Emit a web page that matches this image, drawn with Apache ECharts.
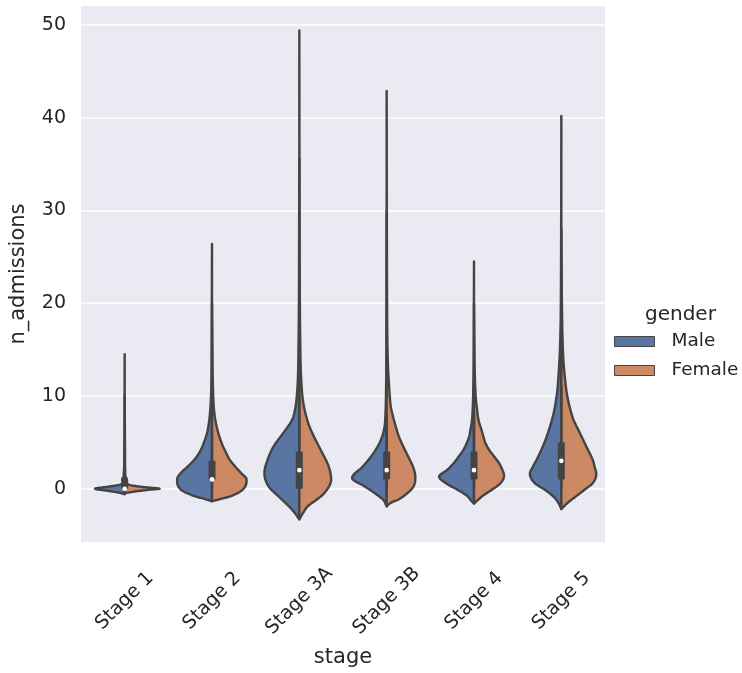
<!DOCTYPE html>
<html>
<head>
<meta charset="utf-8">
<script src="https://cdn.jsdelivr.net/npm/echarts@6/dist/echarts.min.js"></script>
<style>html,body{margin:0;padding:0;background:#fff;}#chart{width:742px;height:673px;}</style>
</head>
<body>
<div id="chart"></div>
<script>
// ---------- data ----------
const stages = ['Stage 1', 'Stage 2', 'Stage 3A', 'Stage 3B', 'Stage 4', 'Stage 5'];
const genders = ['Male', 'Female'];
const yTicks = [0, 10, 20, 30, 40, 50];

// density profiles: [n_admissions, relative density width]
const maleProfiles = [
  [[-0.6,0],[-0.4,0.2],[-0.2,0.55],[0,0.85],[0.2,0.5],[0.45,0.12],[0.8,0.05],[1.0,0.07],[1.3,0.04],[2,0.02],[4,0.01],[14.5,0]],
  [[-1.35,0],[-1.1,0.22],[-0.8,0.5],[-0.1,0.89],[1.0,1.0],[1.7,0.89],[2.4,0.69],[3.1,0.51],[3.9,0.36],[4.6,0.27],[5.3,0.2],[6.0,0.14],[6.7,0.105],[7.4,0.077],[8.2,0.057],[9,0.04],[11,0.02],[15,0.01],[20,0.005],[26.4,0]],
  [[-3.3,0],[-2.3,0.2],[-1.2,0.49],[0.25,0.88],[1.7,1.0],[3.1,0.91],[4.6,0.73],[6.0,0.46],[7.4,0.21],[8.8,0.11],[10.3,0.066],[12,0.04],[15,0.025],[20,0.012],[28,0.006],[35.6,0]],
  [[-1.9,0],[-1.2,0.1],[-0.46,0.35],[0.25,0.63],[1.15,0.99],[2.4,0.68],[3.5,0.44],[4.6,0.25],[5.6,0.13],[6.7,0.06],[8,0.035],[10,0.02],[14,0.01],[20,0.005],[30,0]],
  [[-1.6,0],[-1.3,0.08],[-0.8,0.19],[-0.1,0.48],[0.6,0.81],[1.3,1.0],[2.05,0.76],[2.8,0.57],[3.5,0.43],[4.2,0.3],[4.9,0.21],[5.6,0.14],[6.4,0.1],[7.1,0.066],[8,0.045],[10,0.025],[13,0.012],[18,0.005],[24.5,0]],
  [[-2.2,0],[-1.5,0.09],[-0.8,0.24],[-0.1,0.48],[0.6,0.76],[1.6,0.9],[2.4,0.81],[3.1,0.71],[4.2,0.57],[5.3,0.45],[6.4,0.35],[7.4,0.27],[8.5,0.2],[9.6,0.15],[10.7,0.11],[11.7,0.09],[12.8,0.07],[15,0.04],[18,0.02],[23,0.01],[30,0.004],[40.2,0]]
];
const femaleProfiles = [
  [[-0.5,0],[-0.3,0.3],[-0.1,0.75],[0,1.0],[0.15,0.6],[0.35,0.2],[0.7,0.06],[1.0,0.06],[1.3,0.03],[2,0.015],[4,0.01],[10,0]],
  [[-1.35,0],[-1.1,0.26],[-0.8,0.54],[-0.1,0.88],[1.0,0.99],[1.7,0.83],[2.4,0.66],[3.1,0.51],[3.9,0.4],[4.6,0.31],[5.3,0.24],[6.0,0.18],[6.7,0.134],[7.4,0.094],[8.2,0.066],[8.9,0.049],[10,0.035],[12,0.02],[16,0.01],[20,0]],
  [[-3.3,0],[-2.6,0.11],[-1.9,0.24],[-1.2,0.49],[-0.5,0.71],[1.0,0.91],[2.4,0.84],[3.9,0.65],[5.3,0.46],[6.7,0.29],[8.2,0.17],[9.6,0.1],[11,0.066],[13,0.04],[16,0.025],[20,0.015],[30,0.006],[49.4,0]],
  [[-1.9,0],[-1.5,0.13],[-1.2,0.32],[-0.46,0.6],[0.25,0.77],[1.3,0.82],[2.4,0.75],[3.5,0.61],[4.6,0.47],[5.6,0.35],[6.7,0.26],[7.8,0.18],[8.8,0.12],[9.9,0.09],[11,0.07],[13,0.04],[16,0.02],[22,0.01],[30,0.005],[42.9,0]],
  [[-1.6,0],[-1.3,0.09],[-0.8,0.24],[-0.1,0.52],[0.6,0.76],[1.4,0.86],[2.05,0.81],[2.8,0.71],[3.5,0.57],[4.2,0.43],[4.9,0.33],[5.6,0.27],[6.4,0.21],[7.1,0.15],[7.8,0.11],[8.5,0.09],[9.2,0.066],[10.5,0.04],[13,0.02],[17,0.008],[20,0]],
  [[-2.2,0],[-1.5,0.19],[-0.8,0.43],[-0.1,0.67],[0.6,0.9],[1.6,1.0],[2.4,0.95],[3.1,0.9],[4.2,0.76],[5.3,0.62],[6.4,0.48],[7.4,0.35],[8.5,0.26],[9.6,0.19],[10.7,0.14],[11.7,0.11],[12.8,0.08],[13.8,0.06],[16,0.035],[19,0.02],[23,0.01],[28,0]]
];

// inner box statistics
const boxQ1 = [0, 1, 0, 1, 1, 1];
const boxQ3 = [1, 3, 4, 4, 4, 5];
const medians = [0, 1, 2, 2, 2, 3];
const whiskerLow = [0, 0, 0, 0, 0, 0];
const whiskerHigh = [2, 6, 10, 8, 8, 11];

// ---------- styling ----------
const MALE_COLOR = '#5875A3';
const FEMALE_COLOR = '#CC8963';
const EDGE = '#444444';
const TEXT = '#262626';
const FONT = 'DejaVu Sans';

// monotone cubic resampling of a profile (rendering only)
function smoothProfile(prof) {
  const n = prof.length;
  const ys = prof.map(p => p[0]), ws = prof.map(p => p[1]);
  const d = [];
  for (let k = 0; k < n - 1; k++) d.push((ws[k + 1] - ws[k]) / (ys[k + 1] - ys[k]));
  const m = new Array(n);
  m[0] = d[0]; m[n - 1] = d[n - 2];
  for (let k = 1; k < n - 1; k++) m[k] = (d[k - 1] * d[k] <= 0) ? 0 : (d[k - 1] + d[k]) / 2;
  for (let k = 0; k < n - 1; k++) {
    if (d[k] === 0) { m[k] = 0; m[k + 1] = 0; continue; }
    const a = m[k] / d[k], b = m[k + 1] / d[k], s = a * a + b * b;
    if (s > 9) { const t = 3 / Math.sqrt(s); m[k] = t * a * d[k]; m[k + 1] = t * b * d[k]; }
  }
  const out = [];
  const steps = 12;
  for (let k = 0; k < n - 1; k++) {
    const h = ys[k + 1] - ys[k];
    for (let j = 0; j < steps; j++) {
      const t = j / steps, t2 = t * t, t3 = t2 * t;
      const w = (2 * t3 - 3 * t2 + 1) * ws[k] + (t3 - 2 * t2 + t) * h * m[k] +
                (-2 * t3 + 3 * t2) * ws[k + 1] + (t3 - t2) * h * m[k + 1];
      out.push([ys[k] + t * h, Math.max(0, w)]);
    }
  }
  out.push([ys[n - 1], ws[n - 1]]);
  return out;
}

function violinRenderer(profiles, side, color) {
  return function (params, api) {
    const i = api.value(0);
    const prof = profiles[i];
    const band = api.size([1, 0])[0];
    const halfMax = band * 0.4;
    const cx = api.coord([i, 0])[0];
    const pts = smoothProfile(prof).map(([y, w]) => {
      const p = api.coord([i, y]);
      return [cx + side * w * halfMax, p[1]];
    });
    const top = api.coord([i, prof[prof.length - 1][0]]);
    const bot = api.coord([i, prof[0][0]]);
    const points = pts.concat([[cx, top[1]], [cx, bot[1]]]);
    return {
      type: 'polygon',
      shape: { points: points },
      style: { fill: color, stroke: EDGE, lineWidth: 2.4, lineJoin: 'round' }
    };
  };
}

function boxRenderer(params, api) {
  const i = api.value(0);
  const lo = api.coord([i, whiskerLow[i]]);
  const hi = api.coord([i, whiskerHigh[i]]);
  const q1 = api.coord([i, boxQ1[i]]);
  const q3 = api.coord([i, boxQ3[i]]);
  const md = api.coord([i, medians[i]]);
  return {
    type: 'group',
    children: [
      { type: 'line', shape: { x1: lo[0], y1: lo[1], x2: hi[0], y2: hi[1] }, style: { stroke: EDGE, lineWidth: 2.4 } },
      { type: 'line', shape: { x1: q1[0], y1: q1[1], x2: q3[0], y2: q3[1] }, style: { stroke: EDGE, lineWidth: 7 } },
      { type: 'circle', shape: { cx: md[0], cy: md[1], r: 2.3 }, style: { fill: '#ffffff', stroke: null } }
    ]
  };
}

const catData = stages.map((s, i) => [i, 0]);

const chart = echarts.init(document.getElementById('chart'), null, { renderer: 'canvas' });
chart.setOption({
  animation: false,
  backgroundColor: '#ffffff',
  textStyle: { fontFamily: FONT, color: TEXT },
  grid: { left: 80, right: 137, top: 6, bottom: 131, show: true, backgroundColor: '#EAEAF2', borderWidth: 0 },
  xAxis: {
    type: 'category',
    data: stages,
    boundaryGap: true,
    axisLine: { show: false },
    axisTick: { show: false },
    splitLine: { show: false },
    axisLabel: { rotate: 45, align: 'center', verticalAlign: 'middle', margin: 59, fontSize: 19, color: TEXT, fontFamily: FONT, interval: 0 },
    name: 'stage',
    nameLocation: 'middle',
    nameGap: 105,
    nameTextStyle: { fontSize: 21, color: TEXT, fontFamily: FONT }
  },
  yAxis: {
    type: 'value',
    min: -5.75,
    max: 52.05,
    axisLine: { show: false },
    axisTick: { show: false, customValues: yTicks },
    axisLabel: { customValues: yTicks, margin: 15, fontSize: 19, color: TEXT, fontFamily: FONT },
    splitLine: { show: true, lineStyle: { color: '#ffffff', width: 1.5 } },
    name: 'n_admissions',
    nameLocation: 'middle',
    nameGap: 52,
    nameTextStyle: { fontSize: 21, color: TEXT, fontFamily: FONT }
  },
  legend: {
    data: [
      { name: 'Male', itemStyle: { color: MALE_COLOR, borderColor: EDGE, borderWidth: 1 } },
      { name: 'Female', itemStyle: { color: FEMALE_COLOR, borderColor: EDGE, borderWidth: 1 } }
    ],
    orient: 'vertical',
    left: 614,
    top: 332,
    padding: 0,
    icon: 'rect',
    itemWidth: 40,
    itemHeight: 10,
    itemGap: 10,
    selectedMode: false,
    textStyle: { fontSize: 18.5, color: TEXT, fontFamily: FONT, lineHeight: 18, padding: [0, 0, 0, 12] }
  },
  graphic: [
    { type: 'text', left: 645, top: 305, style: { text: 'gender', fontSize: 20, fill: TEXT, fontFamily: FONT } }
  ],
  series: [
    { name: 'Male', type: 'custom', data: catData, encode: { x: 0, y: 1 }, itemStyle: { color: MALE_COLOR }, renderItem: violinRenderer(maleProfiles, -1, MALE_COLOR), z: 2 },
    { name: 'Female', type: 'custom', data: catData, encode: { x: 0, y: 1 }, itemStyle: { color: FEMALE_COLOR }, renderItem: violinRenderer(femaleProfiles, 1, FEMALE_COLOR), z: 2 },
    { name: 'box', type: 'custom', data: catData, encode: { x: 0, y: 1 }, renderItem: boxRenderer, z: 3 }
  ]
});
</script>
</body>
</html>
